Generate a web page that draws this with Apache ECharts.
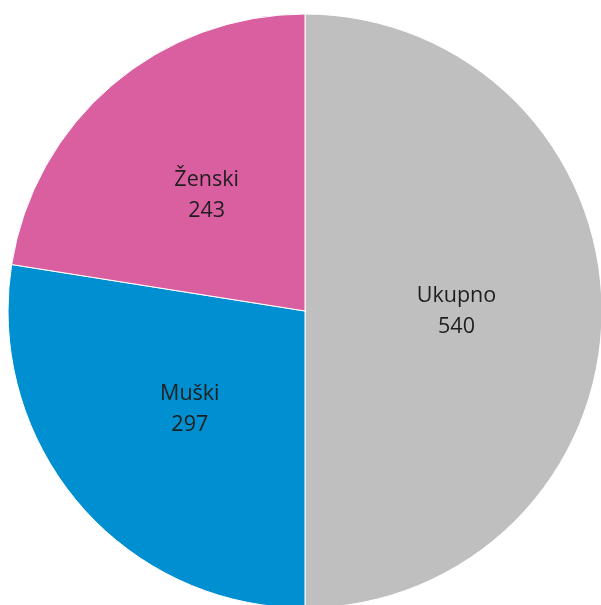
<!DOCTYPE html>
<html><head><meta charset="utf-8">
<script src="https://cdn.jsdelivr.net/npm/echarts@6/dist/echarts.min.js"></script>
<style>html,body{margin:0;padding:0;background:#fff}#c{width:601px;height:605px}</style>
</head><body><div id="c"></div>
<script>
const categories = ["Ukupno", "Muški", "Ženski"];
const values = [540, 297, 243];
const colors = ["#BFBFBF", "#0090D1", "#DA5FA0"];
const chart = echarts.init(document.getElementById('c'), null, {renderer:'canvas'});
chart.setOption({
  animation: false,
  series: [{
    type: 'pie',
    center: [305, 311],
    radius: [0, 297],
    startAngle: 90,
    clockwise: true,
    avoidLabelOverlap: false,
    data: categories.map((n,i)=>({name:n, value:values[i], itemStyle:{color:colors[i]}})),
    itemStyle: {borderColor:'#fff', borderWidth:1},
    label: {
      position: 'inside',
      formatter: '{b}\n{c}',
      color: '#1e1e1e',
      fontFamily: 'Open Sans',
      fontSize: 21.5,
      lineHeight: 31
    },
    labelLine: {show:false},
    emphasis: {disabled:true}
  }]
});
</script></body></html>
